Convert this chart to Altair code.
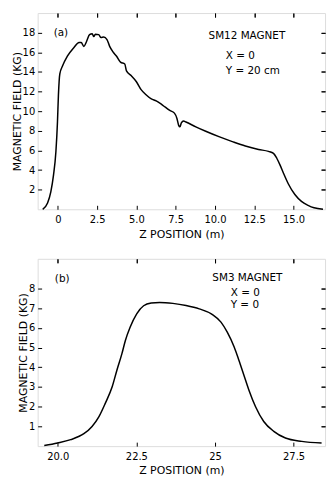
import altair as alt
import pandas as pd

# ---------- Panel (a): SM12 magnet, X=0, Y=20 cm ----------
za = [-0.96, -0.65, -0.44, -0.27, -0.12, -0.02, 0.04, 0.13, 0.3, 0.61, 1.03, 1.35, 1.49, 1.66,
      1.83, 2.02, 2.19, 2.29, 2.39, 2.6, 2.75, 2.92, 3.13, 3.3, 3.53, 3.74,
      3.99, 4.26, 4.37, 4.68, 5.0, 5.3, 5.63, 5.95, 6.26, 6.68, 7.1, 7.42, 7.58, 7.69, 7.77,
      7.86, 8.0, 8.15, 8.78, 9.41, 10.25, 11.1, 11.93, 12.77, 13.4, 13.72, 13.93, 14.14,
      14.35, 14.66, 15.08, 15.5, 15.92, 16.3, 16.87]
ba = [0.0, 0.64, 1.8, 3.5, 5.86, 8.9, 11.6, 13.8, 14.6, 15.6, 16.5, 17.0, 17.0, 16.6,
      17.1, 17.8, 17.9, 17.6, 17.85, 17.8, 17.5, 17.55, 17.3, 16.6, 16.0, 15.6,
      15.0, 14.8, 14.1, 13.6, 13.0, 12.2, 11.65, 11.25, 11.05, 10.6, 10.1, 9.8, 9.25, 8.55, 8.4,
      8.8, 9.0, 8.9, 8.4, 7.95, 7.4, 6.9, 6.45, 6.1, 5.9, 5.7, 5.2, 4.5,
      3.7, 2.6, 1.5, 0.8, 0.4, 0.15, 0.0]

# ---------- Panel (b): SM3 magnet, X=0, Y=0 ----------
zb = [19.57, 19.99, 20.41, 20.83, 21.09, 21.31, 21.51, 21.73, 21.88, 22.04, 22.15, 22.3, 22.51,
      22.73, 22.97, 23.24, 23.66, 24.08, 24.5, 24.92, 25.19, 25.39, 25.61, 25.76, 25.92, 26.08,
      26.29, 26.55, 26.87, 27.24, 27.76, 28.39]
bb = [0.03, 0.16, 0.33, 0.63, 1.0, 1.5, 2.17, 3.01, 3.85, 4.69, 5.36, 6.03, 6.71,
      7.12, 7.26, 7.29, 7.24, 7.13, 6.96, 6.67, 6.29, 5.78, 5.03, 4.36, 3.6, 2.84,
      2.0, 1.25, 0.75, 0.41, 0.24, 0.16]

xticks_a = [0, 2.5, 5, 7.5, 10, 12.5, 15]
yticks_a = [2, 4, 6, 8, 10, 12, 14, 16, 18]
xticks_b = [20, 22.5, 25, 27.5]
yticks_b = [1, 2, 3, 4, 5, 6, 7, 8]

ann_a_text = ["(a)", "SM12 MAGNET", "X = 0", "Y = 20 cm"]
ann_a_x = [0.2, 12.03, 10.69, 10.69]
ann_a_y = [18.0, 17.65, 15.6, 14.1]
ann_a_align = ["center", "center", "left", "left"]

ann_b_text = ["(b)", "SM3 MAGNET", "X = 0", "Y = 0"]
ann_b_x = [20.14, 26.03, 25.5, 25.5]
ann_b_y = [8.47, 8.52, 7.76, 7.18]
ann_b_align = ["center", "center", "left", "left"]

FONT = "DejaVu Sans"


def panel(z, b, xdom, ydom, xt, yt, xlabel_expr, texts, tx, ty, talign, w, h):
    df = pd.DataFrame({"z": z, "b": b})
    ann = pd.DataFrame({"t": texts, "x": tx, "y": ty, "a": talign})
    xs = alt.Scale(domain=xdom, nice=False, zero=False)
    ys = alt.Scale(domain=ydom, nice=False, zero=False)
    common = dict(grid=False, domain=False, tickSize=4, offset=-4, tickColor="black",
                  tickWidth=1, titleFontWeight="normal", titleFont=FONT, labelFont=FONT,
                  titleFontSize=11, labelFontSize=10, titleColor="black", labelColor="black")
    line = alt.Chart(df).mark_line(color="black", strokeWidth=1.5, interpolate="monotone").encode(
        x=alt.X("z:Q", scale=xs, axis=alt.Axis(title="Z POSITION (m)", values=xt,
                                               labelExpr=xlabel_expr, labelPadding=5,
                                               titlePadding=4, **common)),
        y=alt.Y("b:Q", scale=ys, axis=alt.Axis(title="MAGNETIC FIELD (KG)", values=yt,
                                               labelPadding=3, titlePadding=0, **common)),
    )
    layers = []
    for al in ["left", "center"]:
        sub = ann[ann["a"] == al]
        layers.append(
            alt.Chart(sub).mark_text(align=al, baseline="middle", font=FONT, fontSize=10.5,
                                     color="black").encode(
                x=alt.X("x:Q", scale=xs, axis=alt.Axis(orient="top", values=xt, labels=False,
                                                       title=None, **common)),
                y=alt.Y("y:Q", scale=ys, axis=alt.Axis(orient="right", values=yt, labels=False,
                                                       title=None, **common)),
                text="t:N",
            )
        )
    return (
        alt.layer(line, *layers)
        .resolve_axis(x="independent", y="independent")
        .properties(width=w, height=h)
    )


pa = panel(za, ba, [-1.28, 17.0], [0, 20], xticks_a, yticks_a,
           "datum.value == 0 ? '0' : format(datum.value, '.1f')",
           ann_a_text, ann_a_x, ann_a_y, ann_a_align, 290, 198)
pb = panel(zb, bb, [19.36, 28.5], [0, 9.5], xticks_b, yticks_b,
           "datum.value == 25 ? '25' : format(datum.value, '.1f')",
           ann_b_text, ann_b_x, ann_b_y, ann_b_align, 290, 189)

chart = (
    alt.vconcat(pa, pb, spacing=50, bounds="flush")
    .properties(padding={"left": 10, "top": 10, "right": 3, "bottom": 0})
    .configure_view(stroke="black", strokeWidth=1)
    .configure(background="white")
)

chart.save("out.html", embed_options={"renderer": "svg", "actions": False})
